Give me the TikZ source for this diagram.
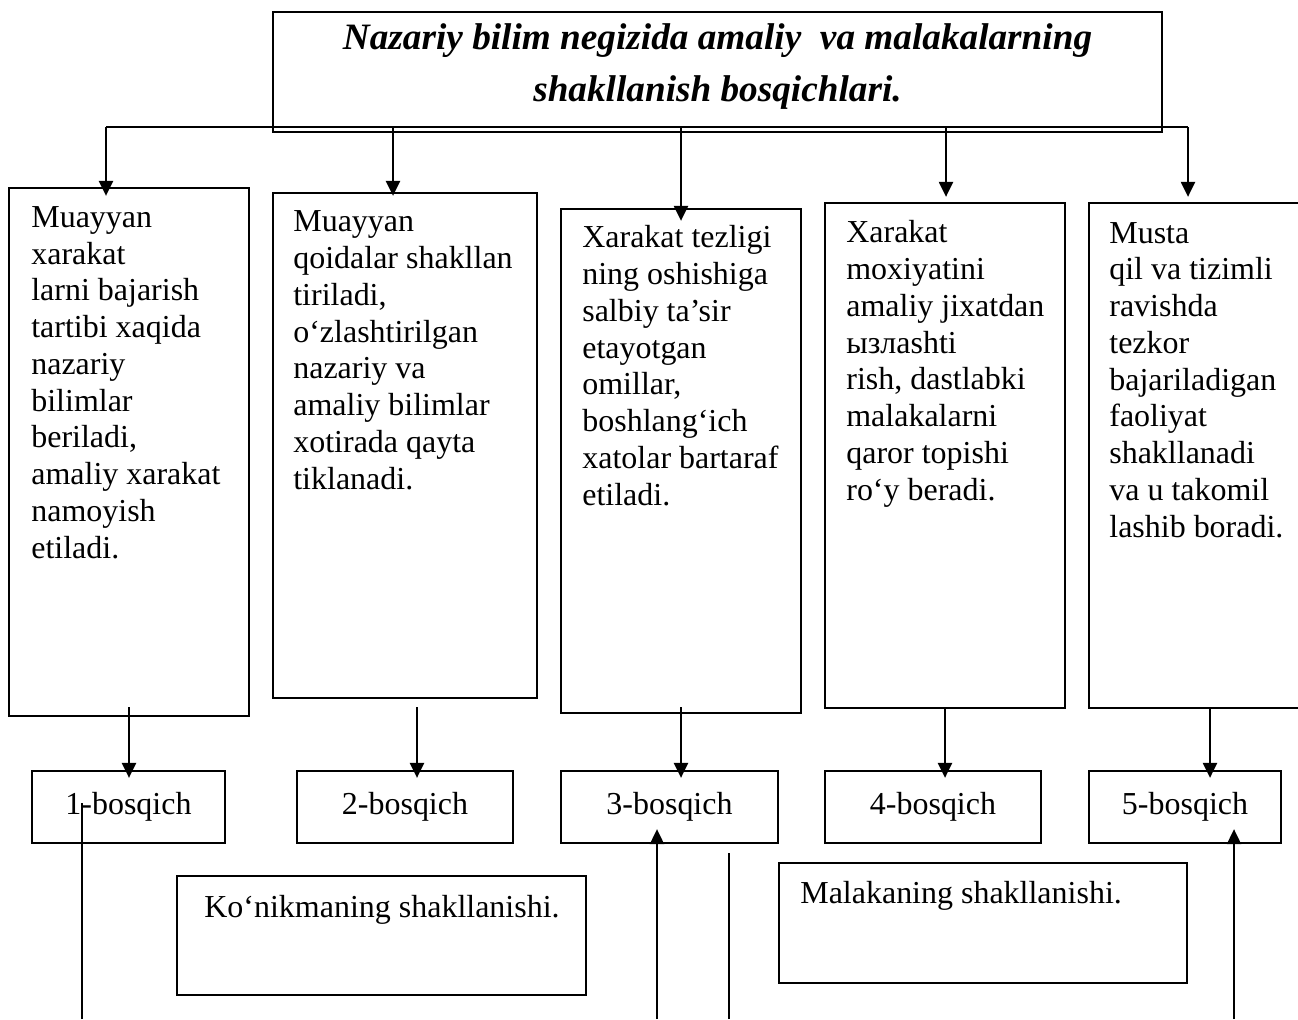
\documentclass[tikz,border=0pt]{standalone}
\usepackage{fontspec}
\setmainfont{Liberation Serif}
\usetikzlibrary{positioning,arrows.meta,fit}

\tikzset{
  box/.style={draw, line width=1.3pt, inner sep=0pt},
  stagebox/.style={draw, line width=1.3pt, inner sep=0pt, minimum height=1.44cm,
                   font=\fontsize{18.2pt}{20.9pt}\selectfont},
  txt/.style={inner sep=0pt, align=left, anchor=base west, font=\fontsize{18.2pt}{20.9pt}\selectfont},
  arr/.style={line width=1.3pt, -{Triangle[width=0.28cm, length=0.3cm]}},
  thinline/.style={line width=0.7pt}
}

\begin{document}
\begin{tikzpicture}[x=0.02cm, y=-0.02cm]
    \useasboundingbox (0,0) rectangle (1298,1019);

    % title
    \node[box, fit={(273,12) (1162,132)}] (title) {};
    \node[inner sep=0pt, align=center, anchor=base,
          font=\fontsize{21.2pt}{29.6pt}\selectfont\bfseries\itshape] (titletext) at (717.5,101)
          {Nazariy bilim negizida amaliy\ \ va malakalarning\\shakllanish bosqichlari.};

    % big boxes (text anchored at the last line)
    \node[box, fit={(9,188) (249,716)}] (b1) {};
    \node[box, fit={(273,193) (537,698)}] (b2) {};
    \node[box, fit={(561,209) (801,713)}] (b3) {};
    \node[box, fit={(825,203) (1065,708)}] (b4) {};
    \node[box, fit={(1089,203) (1320,708)}] (b5) {};

    \node[txt] (t1) at (31,558) {Muayyan\\xarakat\\larni bajarish\\tartibi xaqida\\nazariy\\bilimlar\\beriladi,\\amaliy xarakat\\namoyish\\etiladi.};
    \node[txt] (t2) at (293,489) {Muayyan\\qoidalar shakllan\\tiriladi,\\o‘zlashtirilgan\\nazariy va\\amaliy bilimlar\\xotirada qayta\\tiklanadi.};
    \node[txt] (t3) at (582,505) {Xarakat tezligi\\ning oshishiga\\salbiy ta’sir\\etayotgan\\omillar,\\boshlang‘ich\\xatolar bartaraf\\etiladi.};
    \node[txt] (t4) at (846,500) {Xarakat\\moxiyatini\\amaliy jixatdan\\ызлashti\\rish, dastlabki\\malakalarni\\qaror topishi\\ro‘y beradi.};
    \node[txt] (t5) at (1109,537) {Musta\\qil va tizimli\\ravishda\\tezkor\\bajariladigan\\faoliyat\\shakllanadi\\va u takomil\\lashib boradi.};

    % stages
    \node[stagebox, minimum width=3.86cm] (s1) at (128.5,807) {1-bosqich};
    \node[stagebox, minimum width=4.32cm] (s2) at (405,807) {2-bosqich};
    \node[stagebox, minimum width=4.34cm] (s3) at (669.5,807) {3-bosqich};
    \node[stagebox, minimum width=4.32cm] (s4) at (933,807) {4-bosqich};
    \node[stagebox, minimum width=3.84cm] (s5) at (1185,807) {5-bosqich};

    % bottom boxes
    \node[box, fit={(177,876) (586,995)}] (k) {};
    \node[txt, anchor=base] (kt) at (382,917) {Ko‘nikmaning shakllanishi.};
    \node[box, fit={(779,863) (1187,983)}] (m) {};
    \node[txt] (mt) at (800,903) {Malakaning shakllanishi.};

    % connectors from title
    \coordinate (bus1) at (106,127);
    \coordinate (bus2) at (393,127);
    \coordinate (bus3) at (681,127);
    \coordinate (bus4) at (946,127);
    \coordinate (bus5) at (1188,127);
    \draw[line width=1.3pt] (bus1) -- (bus5);
    \foreach \i/\d in {1/9,2/4,3/13,4/-5,5/-5}
        \draw[arr] (bus\i) -- ([shift={(0,\d)}]bus\i |- b\i.north);

    % boxes to stages
    \coordinate (d1) at (129,707);
    \coordinate (d2) at (417,707);
    \coordinate (d3) at (681,707);
    \coordinate (d4) at (945,707);
    \coordinate (d5) at (1210,707);
    \foreach \i in {1,...,5}
        \draw[arr] (d\i) -- ([shift={(0,8)}]d\i |- s\i.north);

    % lines at the bottom
    \coordinate (u1) at (82,1019);
    \coordinate (u3) at (657,1019);
    \coordinate (v3) at (729,1019);
    \coordinate (u5) at (1234,1019);
    \draw[thinline] (u1) -- ([shift={(0,-41)}]u1 |- s1.south);
    \draw[arr, line width=1.1pt] (u3) -- ([shift={(0,-15)}]u3 |- s3.south);
    \draw[thinline] (v3) -- ([shift={(0,9)}]v3 |- s3.south);
    \draw[arr, line width=1.1pt] (u5) -- ([shift={(0,-15)}]u5 |- s5.south);
\end{tikzpicture}
\end{document}
